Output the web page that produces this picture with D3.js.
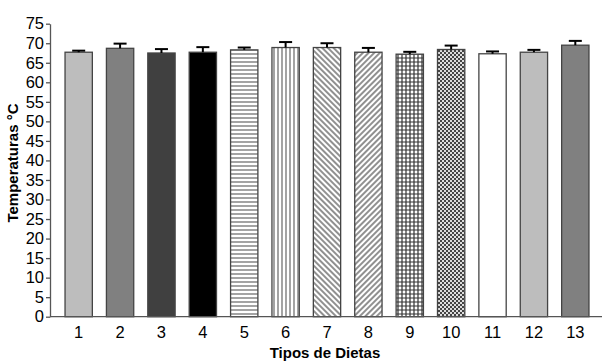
<!DOCTYPE html>
<html>
<head>
<meta charset="utf-8">
<script src="https://cdn.jsdelivr.net/npm/d3@7"></script>
<style>
  body { margin: 0; background: #fff; }
  text { font-family: "Liberation Sans", Arial, sans-serif; }
</style>
</head>
<body>
<div id="chart"></div>
<script>
var width = 610;
var height = 361;

// data
var dietas = ["1", "2", "3", "4", "5", "6", "7", "8", "9", "10", "11", "12", "13"];
var temperaturas = [67.7, 68.7, 67.5, 67.7, 68.3, 68.9, 68.9, 67.7, 67.2, 68.4, 67.3, 67.7, 69.5];
var erros = [0.4, 1.2, 1.0, 1.3, 0.6, 1.4, 1.1, 1.1, 0.6, 1.0, 0.6, 0.6, 1.1];
var yTicks = d3.range(0, 80, 5);

// fill of each bar (solid colour or pattern id)
var fills = ["#bdbdbd", "#808080", "#404040", "#000000", "url(#horiz)", "url(#vert)",
  "url(#diagDown)", "url(#diagUp)", "url(#grid)", "url(#checker)", "#ffffff", "#bdbdbd", "#808080"];

var svg = d3.select("#chart")
  .append("svg")
  .attr("width", width)
  .attr("height", height);

var defs = svg.append("defs");

// horizontal lines
var p = defs.append("pattern").attr("id", "horiz").attr("patternUnits", "userSpaceOnUse")
  .attr("width", 4).attr("height", 4);
p.append("rect").attr("width", 4).attr("height", 4).attr("fill", "#fff");
p.append("line").attr("x1", 0).attr("x2", 4).attr("y1", 2).attr("y2", 2)
  .attr("stroke", "#666").attr("stroke-width", 1.2);

// vertical lines
p = defs.append("pattern").attr("id", "vert").attr("patternUnits", "userSpaceOnUse")
  .attr("width", 4).attr("height", 4);
p.append("rect").attr("width", 4).attr("height", 4).attr("fill", "#fff");
p.append("line").attr("y1", 0).attr("y2", 4).attr("x1", 2).attr("x2", 2)
  .attr("stroke", "#666").attr("stroke-width", 1.2);

// diagonal "\" lines
p = defs.append("pattern").attr("id", "diagDown").attr("patternUnits", "userSpaceOnUse")
  .attr("width", 4).attr("height", 4).attr("patternTransform", "rotate(-45)");
p.append("rect").attr("width", 4).attr("height", 4).attr("fill", "#fff");
p.append("line").attr("y1", 0).attr("y2", 4).attr("x1", 2).attr("x2", 2)
  .attr("stroke", "#555").attr("stroke-width", 1.3);

// diagonal "/" lines
p = defs.append("pattern").attr("id", "diagUp").attr("patternUnits", "userSpaceOnUse")
  .attr("width", 4).attr("height", 4).attr("patternTransform", "rotate(45)");
p.append("rect").attr("width", 4).attr("height", 4).attr("fill", "#fff");
p.append("line").attr("y1", 0).attr("y2", 4).attr("x1", 2).attr("x2", 2)
  .attr("stroke", "#555").attr("stroke-width", 1.3);

// grid
p = defs.append("pattern").attr("id", "grid").attr("patternUnits", "userSpaceOnUse")
  .attr("width", 4).attr("height", 4);
p.append("rect").attr("width", 4).attr("height", 4).attr("fill", "#fff");
p.append("path").attr("d", "M0,2H4M2,0V4").attr("stroke", "#333").attr("stroke-width", 1.2);

// checker
p = defs.append("pattern").attr("id", "checker").attr("patternUnits", "userSpaceOnUse")
  .attr("width", 4).attr("height", 4);
p.append("rect").attr("width", 4).attr("height", 4).attr("fill", "#ddd");
p.append("rect").attr("width", 2).attr("height", 2).attr("fill", "#444");
p.append("rect").attr("x", 2).attr("y", 2).attr("width", 2).attr("height", 2).attr("fill", "#444");

// scales
var y = d3.scaleLinear()
  .domain([0, 75])
  .range([316.7, 23.7]);

var x = d3.scaleBand()
  .domain(dietas)
  .range([58, 596])
  .paddingInner(0.34)
  .paddingOuter(0.17);

var axisLeft = 50;
var axisRight = 602;

// bars
svg.selectAll("rect.bar")
  .data(temperaturas)
  .enter()
  .append("rect")
  .attr("class", "bar")
  .attr("x", function(d, i) { return x(dietas[i]); })
  .attr("y", function(d) { return y(d); })
  .attr("width", x.bandwidth())
  .attr("height", function(d) { return y(0) - y(d); })
  .style("fill", function(d, i) { return fills[i]; })
  .style("stroke", "#444")
  .style("stroke-width", 1.3);

// error bars (upper only)
var errG = svg.append("g").attr("stroke", "#000").attr("stroke-width", 2);
temperaturas.forEach(function(d, i) {
  var cx = x(dietas[i]) + x.bandwidth() / 2;
  errG.append("line")
    .attr("x1", cx).attr("x2", cx)
    .attr("y1", y(d)).attr("y2", y(d + erros[i]));
  errG.append("line")
    .attr("x1", cx - 6.5).attr("x2", cx + 6.5)
    .attr("y1", y(d + erros[i])).attr("y2", y(d + erros[i]));
});

// y axis
var yAxis = d3.axisLeft(y)
  .tickValues(yTicks)
  .tickSize(4)
  .tickPadding(2)
  .tickSizeOuter(0);

var gy = svg.append("g")
  .attr("transform", "translate(" + axisLeft + ",0)")
  .call(yAxis);
gy.select(".domain").attr("stroke", "#555").attr("stroke-width", 1.3);
gy.selectAll(".tick line").attr("stroke", "#555").attr("stroke-width", 1.3);
gy.selectAll(".tick text")
  .attr("fill", "#000")
  .style("font-size", "16.5px")
  .style("font-family", "'Liberation Sans', Arial, sans-serif");

// x axis line
svg.append("line")
  .attr("x1", axisLeft).attr("x2", axisRight)
  .attr("y1", y(0)).attr("y2", y(0))
  .attr("stroke", "#555").attr("stroke-width", 1.3);

// x tick labels
svg.selectAll("text.xlab")
  .data(dietas)
  .enter()
  .append("text")
  .attr("class", "xlab")
  .attr("x", function(d) { return x(d) + x.bandwidth() / 2; })
  .attr("y", 337.5)
  .attr("text-anchor", "middle")
  .style("font-size", "16.5px")
  .text(function(d) { return d; });

// axis titles
svg.append("text")
  .attr("x", 325)
  .attr("y", 358)
  .attr("text-anchor", "middle")
  .style("font-size", "15px")
  .style("font-weight", "bold")
  .text("Tipos de Dietas");

svg.append("text")
  .attr("transform", "translate(18,163) rotate(-90)")
  .attr("text-anchor", "middle")
  .style("font-size", "15px")
  .style("font-weight", "bold")
  .text("Temperaturas °C");
</script>
</body>
</html>
